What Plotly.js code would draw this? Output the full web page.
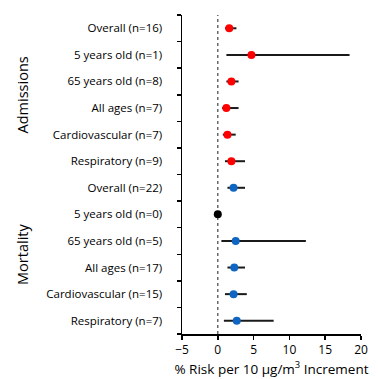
<!DOCTYPE html>
<html>
<head>
<meta charset="utf-8">
<script src="https://cdn.plot.ly/plotly-3.0.1.min.js"></script>
<style>html,body{margin:0;padding:0;background:#fff;}#chart{width:378px;height:379px;}</style>
</head>
<body>
<div id="chart"></div>
<script>
var categories = [
  "Overall (n=16)", "5 years old (n=1)", "65 years old (n=8)", "All ages (n=7)", "Cardiovascular (n=7)", "Respiratory (n=9)",
  "Overall (n=22)", "5 years old (n=0)", "65 years old (n=5)", "All ages (n=17)", "Cardiovascular (n=15)", "Respiratory (n=7)"
];
var groups = ["Admissions", "Mortality"];
var estimate = [1.6, 4.7, 1.9, 1.2, 1.35, 1.9, 2.2, 0, 2.5, 2.3, 2.2, 2.65];
var lower    = [1.0, 1.2, 1.2, 0.6, 0.7, 1.0, 1.35, 0, 0.5, 1.35, 1.0, 0.85];
var upper    = [2.6, 18.4, 2.9, 2.9, 2.5, 3.8, 3.8, 0, 12.3, 3.8, 4.05, 7.8];
var pointColor = ["red","red","red","red","red","red","blue","blue","blue","blue","blue","blue"];
pointColor[7] = "none";

var colorMap = {red: "#ff0000", blue: "#0f66c2", none: "#000000"};
var idx = categories.map(function(_, i){ return i; });

var traces = [];
["red","blue","none"].forEach(function(c){
  var ii = idx.filter(function(i){ return pointColor[i] === c; });
  traces.push({
    type: "scatter", mode: "markers",
    x: ii.map(function(i){ return estimate[i]; }),
    y: ii.map(function(i){ return i; }),
    marker: {color: colorMap[c], size: 8},
    error_x: {
      type: "data", symmetric: false,
      array: ii.map(function(i){ return upper[i] - estimate[i]; }),
      arrayminus: ii.map(function(i){ return estimate[i] - lower[i]; }),
      color: "#1a1a1a", thickness: 2, width: 0, visible: c !== "none"
    },
    hoverinfo: "x+y", showlegend: false
  });
});
traces.push({type: "scatter", mode: "markers", x: [null], y: [null], yaxis: "y2", showlegend: false, hoverinfo: "skip"});

var boundaries = [];
for (var b = -0.5; b <= categories.length - 0.5; b += 1) boundaries.push(b);

var fontFam = "Open Sans, Noto Sans, sans-serif";
var layout = {
  width: 378, height: 379,
  margin: {l: 182, r: 17, t: 15, b: 45},
  paper_bgcolor: "#fff", plot_bgcolor: "#fff",
  font: {family: fontFam, color: "#000", size: 11},
  xaxis: {
    range: [-5, 20], tickvals: [-5, 0, 5, 10, 15, 20],
    showgrid: false, zeroline: false, showline: true, linecolor: "#000", linewidth: 1.5,
    ticks: "outside", ticklen: 4, tickcolor: "#000", tickwidth: 1.5,
    tickfont: {size: 12, family: fontFam},
    title: {text: "% Risk per 10 µg/m<sup>3</sup> Increment", font: {size: 13.5, family: fontFam}, standoff: 6}
  },
  yaxis: {
    range: [categories.length - 0.5, -0.5],
    tickvals: idx, ticktext: categories,
    showgrid: false, zeroline: false, showline: true, linecolor: "#000", linewidth: 1.5,
    ticks: "", ticklabelstandoff: 16,
    tickfont: {size: 11.5, family: fontFam}
  },
  yaxis2: {
    overlaying: "y", range: [categories.length - 0.5, -0.5],
    tickvals: boundaries, showticklabels: false,
    ticks: "outside", ticklen: 4, tickcolor: "#000", tickwidth: 1.5,
    showgrid: false, zeroline: false, showline: false
  },
  shapes: [{
    type: "line", xref: "x", yref: "paper", x0: 0, x1: 0, y0: 0, y1: 1,
    line: {color: "#444", width: 1.2, dash: "3px,3px"}, layer: "below"
  }],
  annotations: [
    {text: groups[0], xref: "paper", yref: "y", x: -0.89, y: 2.5, textangle: -90, showarrow: false, xanchor: "center", yanchor: "middle", font: {size: 14.5, family: fontFam}},
    {text: groups[1], xref: "paper", yref: "y", x: -0.89, y: 8.5, textangle: -90, showarrow: false, xanchor: "center", yanchor: "middle", font: {size: 14.5, family: fontFam}}
  ]
};

Plotly.newPlot("chart", traces, layout, {displayModeBar: false, staticPlot: true});
</script>
</body>
</html>
